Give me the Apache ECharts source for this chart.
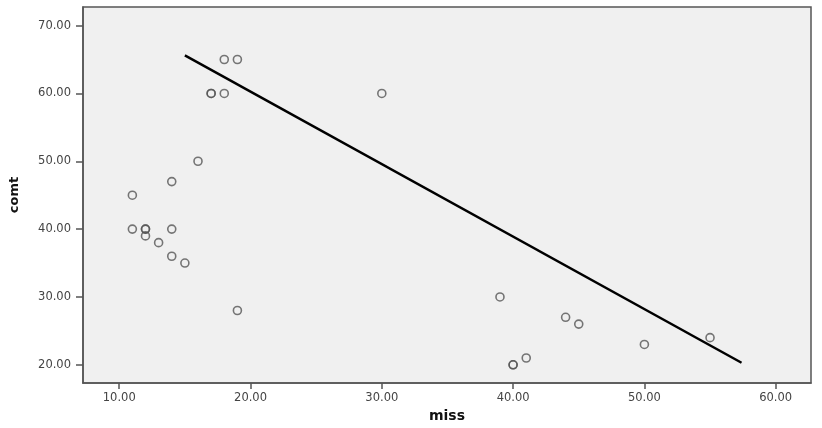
<!DOCTYPE html>
<html>
<head>
<meta charset="utf-8">
<script src="https://cdn.jsdelivr.net/npm/echarts@6/dist/echarts.min.js"></script>
<style>html,body{margin:0;padding:0;background:#fff}#c{width:822px;height:428px}</style>
</head>
<body>
<div id="c"></div>
<script>
// data
const missValues = [11, 14, 16, 17, 17, 18, 18, 19, 30, 11, 12, 12, 12, 13, 14, 14, 15, 19, 39, 44, 45, 50, 55, 40, 40, 41];
const comtValues = [45, 47, 50, 60, 60, 60, 65, 65, 60, 40, 40, 40, 39, 38, 40, 36, 35, 28, 30, 27, 26, 23, 24, 20, 20, 21];
const lineX = [15.0, 57.4];
const lineY = [65.6, 20.3];
const xTicks = [10, 20, 30, 40, 50, 60];
const yTicks = [20, 30, 40, 50, 60, 70];

const points = missValues.map((m, i) => [m, comtValues[i]]);
const linePts = lineX.map((x, i) => [x, lineY[i]]);
const fmt = v => Number(v).toFixed(2);

const chart = echarts.init(document.getElementById('c'), null, {renderer: 'canvas'});
chart.setOption({
  animation: false,
  backgroundColor: '#ffffff',
  grid: {left: 80, top: 7, right: 11, bottom: 42, show: true, backgroundColor: '#f0f0f0', borderColor: '#555', borderWidth: 1.5},
  xAxis: {
    type: 'value', min: 7.24, max: 62.69,
    name: 'miss', nameLocation: 'middle', nameGap: 24,
    nameTextStyle: {fontFamily: 'DejaVu Sans', fontWeight: 'bold', fontSize: 14, color: '#111'},
    splitLine: {show: false},
    axisLine: {show: true, lineStyle: {color: '#555', width: 1.5}},
    axisTick: {show: true, length: 6, customValues: xTicks, lineStyle: {color: '#555', width: 1.5}},
    axisLabel: {customValues: xTicks, formatter: fmt, margin: 9, fontFamily: 'DejaVu Sans', fontSize: 11.5, color: '#444'}
  },
  yAxis: {
    type: 'value', min: 17.3, max: 72.74,
    name: 'comt', nameLocation: 'middle', nameGap: 62, nameRotate: 90,
    nameTextStyle: {fontFamily: 'DejaVu Sans', fontWeight: 'bold', fontSize: 13, color: '#111'},
    splitLine: {show: false},
    axisLine: {show: true, lineStyle: {color: '#555', width: 1.5}},
    axisTick: {show: true, length: 7, customValues: yTicks, lineStyle: {color: '#555', width: 1.5}},
    axisLabel: {customValues: yTicks, formatter: fmt, margin: 12, fontFamily: 'DejaVu Sans', fontSize: 11.5, color: '#444'}
  },
  series: [
    {
      type: 'scatter', data: points, symbol: 'circle', symbolSize: 8,
      itemStyle: {color: 'rgba(0,0,0,0)', borderColor: '#555', borderWidth: 1.6}
    },
    {
      type: 'line', data: linePts, symbol: 'none',
      lineStyle: {color: '#000', width: 2.5}
    }
  ]
});
</script>
</body>
</html>
